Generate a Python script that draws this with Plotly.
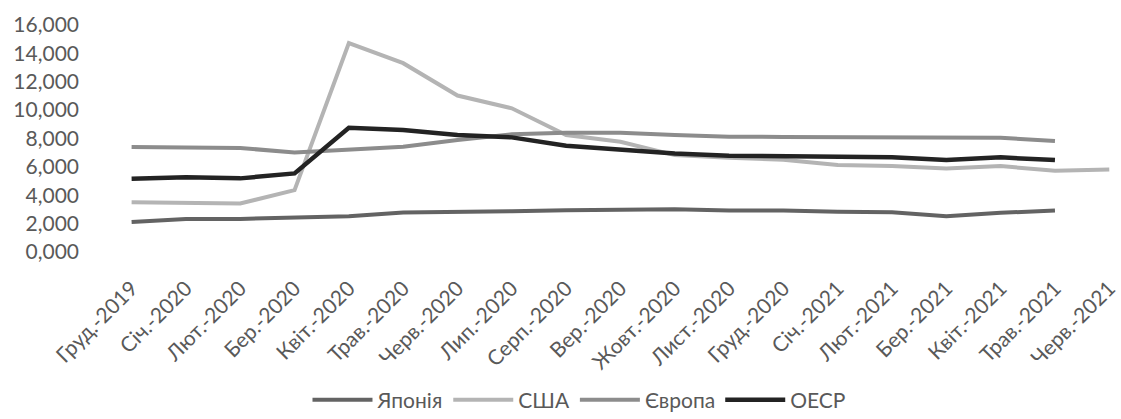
import plotly.graph_objects as go

categories = ["Груд.-2019", "Січ.-2020", "Лют.-2020", "Бер.-2020", "Квіт.-2020", "Трав.-2020",
              "Черв.-2020", "Лип.-2020", "Серп.-2020", "Вер.-2020", "Жовт.-2020", "Лист.-2020",
              "Груд.-2020", "Січ.-2021", "Лют.-2021", "Бер.-2021", "Квіт.-2021", "Трав.-2021",
              "Черв.-2021"]

japan = [2120, 2330, 2330, 2430, 2520, 2780, 2800, 2870, 2950, 2950, 3020, 2920,
         2920, 2830, 2800, 2520, 2760, 2920, None]
usa = [3510, 3440, 3420, 4360, 14730, 13310, 11030, 10130, 8250, 7770, 6830, 6640,
       6500, 6130, 6060, 5890, 6060, 5720, 5820]
europe = [7400, 7400, 7330, 7020, 7190, 7420, 7890, 8300, 8410, 8410, 8250, 8130,
          8110, 8110, 8100, 8050, 8050, 7830, None]
oecd = [5160, 5260, 5190, 5540, 8760, 8600, 8250, 8080, 7490, 7240, 6950, 6790,
        6760, 6760, 6670, 6480, 6670, 6480, None]

yticks = [0, 2000, 4000, 6000, 8000, 10000, 12000, 14000, 16000]
ytick_labels = ["0,000", "2,000", "4,000", "6,000", "8,000", "10,000", "12,000", "14,000", "16,000"]

series = [
    ("Японія", japan, "#636363", 4),
    ("США", usa, "#b4b4b4", 4),
    ("Європа", europe, "#8c8c8c", 4),
    ("ОЕСР", oecd, "#232323", 4.5),
]

fig = go.Figure()
for name, vals, color, w in series:
    fig.add_trace(go.Scatter(
        x=list(range(len(categories))), y=vals, name=name, mode="lines",
        line=dict(color=color, width=w), connectgaps=False,
    ))

font_family = "Lato, Open Sans, sans-serif"
fig.update_layout(
    width=1121, height=419,
    margin=dict(l=80, r=1, t=25, b=167),
    paper_bgcolor="white", plot_bgcolor="white",
    font=dict(family=font_family, size=21, color="#595959"),
    showlegend=True,
    legend=dict(orientation="h", x=0.484, xanchor="center", y=0.045, yanchor="middle",
                yref="container", font=dict(size=21, color="#595959"),
                itemwidth=60, tracegroupgap=0),
    xaxis=dict(
        range=[-0.95, 18.05],
        tickmode="array", tickvals=list(range(len(categories))), ticktext=categories,
        tickangle=-45, showgrid=False, zeroline=False, showline=False, ticks="",
        tickfont=dict(size=21, color="#595959"), ticklabeloverflow="allow",
        ticklabelstandoff=19,
    ),
    yaxis=dict(
        range=[0, 16000], tickmode="array", tickvals=yticks, ticktext=ytick_labels,
        showgrid=False, zeroline=False, showline=False, ticks="",
        tickfont=dict(size=21, color="#595959"),
    ),
)

fig.write_html("out.html")
